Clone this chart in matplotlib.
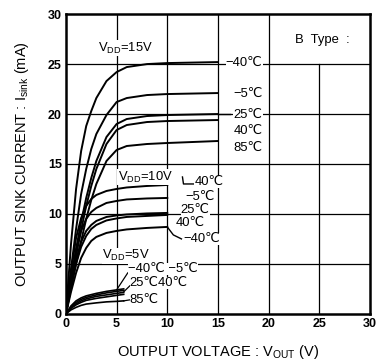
import matplotlib
matplotlib.use("Agg")
import matplotlib.pyplot as plt

plt.rcParams["font.family"] = ["Liberation Sans", "DejaVu Sans"]
plt.rcParams["mathtext.fontset"] = "custom"
plt.rcParams["mathtext.rm"] = "Liberation Sans"

# ── data ─────────────────────────────────────────────────────────────────────
TEMPS = ["-40", "-5", "25", "40", "85"]

v15 = [0, 0.5, 1, 1.5, 2, 2.5, 3, 4, 5, 6, 8, 10, 15]
i15 = {
    "-40": [0, 7.0, 12.5, 16.3, 18.8, 20.3, 21.6, 23.3, 24.2, 24.7, 25.0, 25.1, 25.2],
    "-5":  [0, 4.5, 8.5, 12.0, 14.5, 16.5, 18.0, 19.9, 21.2, 21.6, 21.9, 22.0, 22.1],
    "25":  [0, 3.3, 6.5, 9.2, 11.6, 13.6, 15.3, 17.7, 19.0, 19.5, 19.8, 19.9, 20.0],
    "40":  [0, 3.0, 5.8, 8.4, 10.8, 12.8, 14.5, 17.0, 18.4, 18.9, 19.2, 19.3, 19.4],
    "85":  [0, 2.6, 5.0, 7.3, 9.5, 11.4, 13.0, 15.3, 16.4, 16.8, 17.0, 17.1, 17.3],
}

v10 = [0, 0.5, 1, 1.5, 2, 2.5, 3, 4, 5, 6, 8, 10]
i10 = {
    "-40": [0, 4.2, 7.6, 9.6, 10.8, 11.5, 11.9, 12.3, 12.5, 12.65, 12.8, 12.9],
    "-5":  [0, 3.5, 6.4, 8.3, 9.5, 10.2, 10.6, 11.1, 11.3, 11.45, 11.55, 11.6],
    "25":  [0, 2.9, 5.4, 7.2, 8.3, 8.9, 9.3, 9.7, 9.85, 9.95, 10.05, 10.1],
    "40":  [0, 2.7, 5.0, 6.7, 7.8, 8.5, 8.9, 9.35, 9.55, 9.7, 9.8, 9.9],
    "85":  [0, 2.2, 4.1, 5.6, 6.6, 7.3, 7.7, 8.1, 8.3, 8.45, 8.6, 8.7],
}

v5 = [0, 0.5, 1, 1.5, 2, 3, 4, 5, 5.7]
i5 = {
    "-40": [0, 0.8, 1.3, 1.6, 1.8, 2.05, 2.25, 2.4, 2.5],
    "-5":  [0, 0.7, 1.15, 1.45, 1.65, 1.9, 2.1, 2.25, 2.35],
    "25":  [0, 0.6, 1.0, 1.3, 1.5, 1.75, 1.9, 2.05, 2.15],
    "40":  [0, 0.55, 0.9, 1.15, 1.35, 1.55, 1.7, 1.85, 1.95],
    "85":  [0, 0.4, 0.65, 0.85, 0.98, 1.1, 1.2, 1.25, 1.3],
}

x_ticks = [0, 5, 10, 15, 20, 25, 30]
y_ticks = [0, 5, 10, 15, 20, 25, 30]

# ── figure ───────────────────────────────────────────────────────────────────
fig = plt.figure(figsize=(3.79, 3.62), dpi=100)
ax = fig.add_axes([0.174, 0.133, 0.802, 0.828])
ax.set_xlim(0, 30)
ax.set_ylim(0, 30)

# grid (the B Type box breaks the x=25 line above 25 mA)
for gx in x_ticks[1:-1]:
    top = 25 if gx == 25 else 30
    ax.plot([gx, gx], [0, top], color="black", lw=0.9, zorder=1)
for gy in y_ticks[1:-1]:
    ax.plot([0, 30], [gy, gy], color="black", lw=0.9, zorder=1)

for t in TEMPS:
    ax.plot(v15, i15[t], color="black", lw=1.4, zorder=3)
    ax.plot(v10, i10[t], color="black", lw=1.4, zorder=3)
    ax.plot(v5, i5[t], color="black", lw=1.2, zorder=3)

FS = 9.4
lab = dict(fontsize=FS, color="black", va="center", zorder=5,
           bbox=dict(facecolor="white", edgecolor="none", pad=0.1))

# VDD = 15 V
ax.text(3.2, 26.6, r"V$_{\rm DD}$=15V", ha="left", **lab)
ax.text(19.4, 25.1, "−40℃", ha="right", **lab)
ax.text(19.4, 22.0, "−5℃", ha="right", **lab)
ax.text(19.4, 19.9, "25℃", ha="right", **lab)
ax.text(19.4, 18.3, "40℃", ha="right", **lab)
ax.text(19.4, 16.6, "85℃", ha="right", **lab)
ax.plot([15, 16.2], [20.0, 20.0], color="black", lw=1.0, zorder=4)

ax.text(22.6, 27.4, "B  Type  :", fontsize=FS, va="center", ha="left")

# VDD = 10 V
ax.text(5.1, 13.7, r"V$_{\rm DD}$=10V", ha="left", **lab)
ax.text(12.7, 13.2, "40℃", ha="left", **lab)
ax.plot([11.5, 11.6, 12.6], [13.7, 13.0, 13.0], color="black", lw=1.0, zorder=4)
ax.text(14.7, 11.7, "−5℃", ha="right", **lab)
ax.text(14.2, 10.4, "25℃", ha="right", **lab)
ax.text(13.7, 9.1, "40℃", ha="right", **lab)
ax.text(15.2, 7.5, "−40℃", ha="right", **lab)
ax.plot([10.0, 10.6, 11.4], [8.7, 7.9, 7.5], color="black", lw=1.0, zorder=4)

# VDD = 5 V
ax.text(3.6, 5.8, r"V$_{\rm DD}$=5V", ha="left", **lab)
ax.text(6.1, 4.5, "−40℃ −5℃", ha="left", **lab)
ax.text(6.3, 3.1, "25℃40℃", ha="left", **lab)
ax.text(6.3, 1.4, "85℃", ha="left", **lab)
ax.plot([5.0, 6.1], [2.4, 4.1], color="black", lw=0.9, zorder=4)
ax.plot([5.7, 6.3], [2.2, 2.8], color="black", lw=0.9, zorder=4)
ax.plot([5.7, 6.3], [1.3, 1.4], color="black", lw=0.9, zorder=4)

# axes cosmetics
for s in ax.spines.values():
    s.set_linewidth(1.8)
ax.set_xticks(x_ticks)
ax.set_yticks(y_ticks)
ax.tick_params(length=0, labelsize=9, pad=3)
for lbl in ax.get_xticklabels() + ax.get_yticklabels():
    lbl.set_fontweight("bold")

ax.set_xlabel(r"OUTPUT VOLTAGE : V$_{\rm OUT}$ (V)", fontsize=10.5, labelpad=9)
ax.set_ylabel(r"OUTPUT SINK CURRENT : I$_{\rm sink}$ (mA)", fontsize=10.5, labelpad=12)

fig.savefig("out.png", dpi=100)
